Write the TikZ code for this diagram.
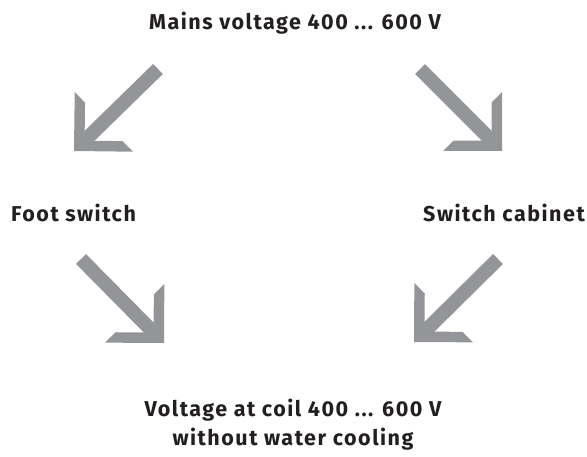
\documentclass[tikz,border=0pt]{standalone}
\usepackage{fontspec}
\setmainfont{Fira Sans}[LetterSpace=7]
\usetikzlibrary{arrows.meta}

\definecolor{flowgray}{RGB}{148,149,153}
\definecolor{inkdark}{RGB}{35,31,32}

% open L-shaped head, arm ends cut square to the axis
\pgfdeclarearrow{
  name = Chevron,
  setup code = {
    \pgfarrowssettipend{0pt}
    \pgfarrowssetbackend{-41.7pt}
    \pgfarrowssetlineend{-10pt}
    \pgfarrowshullpoint{0pt}{0pt}
    \pgfarrowshullpoint{-41.7pt}{41.7pt}
    \pgfarrowshullpoint{-41.7pt}{-41.7pt}
  },
  drawing code = {
    \pgfpathmoveto{\pgfpointorigin}
    \pgfpathlineto{\pgfpoint{-41.7pt}{41.7pt}}
    \pgfpathlineto{\pgfpoint{-41.7pt}{26.9pt}}
    \pgfpathlineto{\pgfpoint{-14.8pt}{0pt}}
    \pgfpathlineto{\pgfpoint{-41.7pt}{-26.9pt}}
    \pgfpathlineto{\pgfpoint{-41.7pt}{-41.7pt}}
    \pgfpathclose
    \pgfusepathqfill
  }
}

\begin{document}
\begin{tikzpicture}[
        x=1pt, y=-1pt,
        lbl/.style={font=\fontsize{21.5}{30}\selectfont\bfseries, text=inkdark, inner sep=0pt},
        flow/.style={draw, color=flowgray, line width=14pt, -Chevron}
      ]
      \useasboundingbox (0,0) rectangle (587,457);

      \node[lbl, anchor=base] (mains) at (295,30) {Mains voltage 400 ... 600 V};
      \node[lbl, anchor=base west] (foot) at (11,222) {Foot switch};
      \node[lbl, anchor=base east] (cabinet) at (585,222) {Switch cabinet};
      \node[lbl, anchor=base, align=center] (coil) at (293,446)
        {Voltage at coil 400 ... 600 V\\without water cooling};

      % arrow ends
      \coordinate (mfs) at (158,69);
      \coordinate (mfe) at (74,151);
      \coordinate (mcs) at (420,69);
      \coordinate (mce) at (502,151);
      \coordinate (fcs) at (81,259);
      \coordinate (fce) at (164,343);
      \coordinate (ccs) at (498,259);
      \coordinate (cce) at (414,342);

      \draw[flow] (mfs) -- (mfe);
      \draw[flow] (mcs) -- (mce);
      \draw[flow] (fcs) -- (fce);
      \draw[flow] (ccs) -- (cce);
    \end{tikzpicture}
\end{document}
